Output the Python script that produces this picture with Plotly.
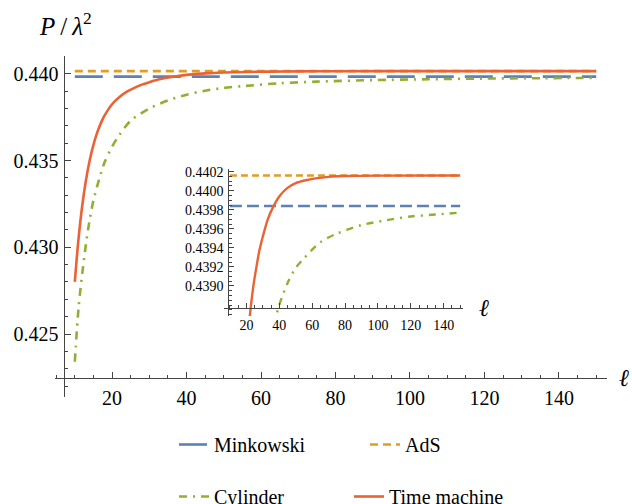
import plotly.graph_objects as go

# ---------------- data ----------------
ell_const = [10, 150]
minkowski = [0.43984, 0.43984]
ads = [0.44016, 0.44016]

ell_cyl = [10, 11, 12, 13, 14, 15, 16.5, 18, 20, 22, 25, 30, 35, 40, 45, 50,
           55, 65, 75, 90, 105, 120, 135, 150]
cylinder = [0.4234, 0.4265, 0.4285, 0.4302, 0.4316, 0.4327, 0.4339, 0.4349,
            0.4358, 0.4365, 0.4373, 0.4380, 0.43847, 0.4388, 0.43903, 0.43919,
            0.43929, 0.43946, 0.43955, 0.43964, 0.43969, 0.43973, 0.43975, 0.43977]

ell_tm = [10, 10.5, 11, 12, 13, 14, 15, 16, 17, 18, 20, 22, 24, 26, 28,
          30, 33, 36, 40, 45, 50, 56, 62, 70, 80, 100, 150]
time_machine = [0.42800, 0.42932, 0.43050, 0.43241, 0.43388, 0.43502, 0.43591,
                0.43661, 0.43716, 0.43760, 0.43825, 0.43867, 0.43897, 0.43919,
                0.43938, 0.43952, 0.43970, 0.43982, 0.43994, 0.44003, 0.44008,
                0.44011, 0.44013, 0.440146, 0.440154, 0.440159, 0.44016]

inset_yticks = [0.4390, 0.4392, 0.4394, 0.4396, 0.4398, 0.4400, 0.4402]

series_names = ["Minkowski", "AdS", "Cylinder", "Time machine"]
colors = ["#5E81B5", "#E19C24", "#8FB032", "#EB6235"]

W, H = 632, 504
FONT = "Times New Roman"
AX = "#444444"


def px_x(p):
    return p / W


def px_y(p):
    return 1 - p / H


fig = go.Figure()

main_dash = ["28px,11px", "8px,5px", "8px,6px,2px,6px", "solid"]
inset_dash = ["12px,5px", "7px,4px", "7px,6px,2px,6px", "solid"]
xs = [ell_const, ell_const, ell_cyl, ell_tm]
ys = [minkowski, ads, cylinder, time_machine]
legends = ["legend", "legend", "legend2", "legend2"]

for i in range(4):
    fig.add_trace(go.Scatter(
        x=xs[i], y=ys[i], mode="lines", name=series_names[i],
        line=dict(color=colors[i], width=2.6, dash=main_dash[i], shape="spline", smoothing=0.8),
        xaxis="x", yaxis="y", legend=legends[i], showlegend=True, hoverinfo="skip"))

for i in range(4):
    fig.add_trace(go.Scatter(
        x=xs[i], y=ys[i], mode="lines", name=series_names[i],
        line=dict(color=colors[i], width=2.4, dash=inset_dash[i], shape="spline", smoothing=0.8),
        xaxis="x2", yaxis="y2", showlegend=False, hoverinfo="skip"))

tickfont_main = dict(family=FONT, size=20, color="black")
tickfont_in = dict(family=FONT, size=14, color="black")

fig.update_layout(
    width=W, height=H,
    margin=dict(l=0, r=0, t=0, b=0, autoexpand=False),
    paper_bgcolor="white", plot_bgcolor="white",
    font=dict(family=FONT, color="black"),
    xaxis=dict(domain=[px_x(55), px_x(607)], range=[4.68, 152.9],
               anchor="free", position=px_y(378.3),
               showgrid=False, zeroline=False, showline=True, linecolor=AX, linewidth=1,
               ticks="inside", ticklen=6, tickcolor=AX, tickwidth=1,
               tick0=0, dtick=20, tickfont=tickfont_main, ticklabelstandoff=2,
               minor=dict(ticks="inside", ticklen=3, dtick=5, tick0=0, tickcolor=AX)),
    yaxis=dict(domain=[px_y(397), px_y(56)], range=[0.421367, 0.44103],
               anchor="free", position=px_x(64.4),
               showgrid=False, zeroline=False, showline=True, linecolor=AX, linewidth=1,
               ticks="inside", ticklen=6, tickcolor=AX, tickwidth=1,
               tick0=0.425, dtick=0.005, tickformat=".3f", tickfont=tickfont_main,
               ticklabelstandoff=2,
               minor=dict(ticks="inside", ticklen=3, dtick=0.001, tick0=0.425, tickcolor=AX)),
    xaxis2=dict(domain=[px_x(224.3), px_x(463)], range=[6.57, 151.7],
                anchor="free", position=px_y(307.7),
                showgrid=False, zeroline=False, showline=True, linecolor=AX, linewidth=1,
                ticks="inside", ticklen=5, tickcolor=AX, tickwidth=1,
                tick0=0, dtick=20, tickfont=tickfont_in, ticklabelstandoff=4,
                minor=dict(ticks="inside", ticklen=3, dtick=5, tick0=0, tickcolor=AX)),
    yaxis2=dict(domain=[px_y(316), px_y(169.3)], range=[0.438685, 0.440225],
                anchor="free", position=px_x(228.3),
                showgrid=False, zeroline=False, showline=True, linecolor=AX, linewidth=1,
                ticks="inside", ticklen=5, tickcolor=AX, tickwidth=1,
                tickmode="array", tickvals=inset_yticks,
                ticktext=[f"{v:.4f}" for v in inset_yticks], tickfont=tickfont_in,
                ticklabelstandoff=2,
                minor=dict(ticks="inside", ticklen=3, dtick=0.00005, tick0=0.439, tickcolor=AX)),
    legend=dict(orientation="h", x=px_x(174), y=px_y(425), xanchor="left", yanchor="top",
                font=dict(family=FONT, size=20, color="black"), bgcolor="rgba(0,0,0,0)",
                entrywidth=146, entrywidthmode="pixels"),
    legend2=dict(orientation="h", x=px_x(174), y=px_y(477), xanchor="left", yanchor="top",
                 font=dict(family=FONT, size=20, color="black"), bgcolor="rgba(0,0,0,0)",
                 entrywidth=130, entrywidthmode="pixels"),
    annotations=[
        dict(text="<i>P</i>\u2009/\u2009<i>λ</i><sup>2</sup>", x=px_x(37), y=px_y(24),
             xref="paper", yref="paper",
             xanchor="left", yanchor="middle", showarrow=False,
             font=dict(family=FONT, size=25, color="black")),
        dict(text="<i>ℓ</i>", x=px_x(617), y=px_y(378), xref="paper", yref="paper",
             xanchor="left", yanchor="middle", showarrow=False,
             font=dict(family=FONT, size=24, color="black")),
        dict(text="<i>ℓ</i>", x=px_x(477), y=px_y(308), xref="paper", yref="paper",
             xanchor="left", yanchor="middle", showarrow=False,
             font=dict(family=FONT, size=24, color="black")),
    ],
)

fig.write_html("out.html", config={"displayModeBar": False},
               post_script="document.body.style.margin='0';document.body.style.padding='0';")
